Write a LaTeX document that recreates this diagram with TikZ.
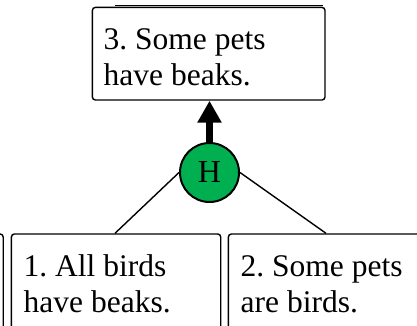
\documentclass[tikz,border=0pt]{standalone}
\usepackage{fontspec}
\setmainfont{Liberation Serif}
\frenchspacing
\usetikzlibrary{arrows.meta}
\definecolor{hgreen}{HTML}{00B050}
\tikzset{
  box/.style={draw, line width=1.4pt, rounded corners=3pt, anchor=north west, inner sep=0pt},
  txt/.style={anchor=base west, align=left, inner sep=0pt, font=\fontsize{31.5}{36}\selectfont},
  hnode/.style={circle, draw, line width=2pt, fill=hgreen, minimum size=59pt, inner sep=0pt, font=\fontsize{32}{36}\selectfont},
  link/.style={line width=1.4pt},
  support/.style={line width=7pt, -{Triangle[width=23pt,length=22pt]}}
}
\begin{document}
\begin{tikzpicture}[x=1pt,y=-1pt]
\useasboundingbox (0,0) rectangle (417,325);
\clip (0,0) rectangle (417,325);
% boxes
\node[box, minimum width=232.6pt, minimum height=92.6pt] (b3) at (91.7,6.7) {};
\node[box, minimum width=209.3pt, minimum height=140pt] (b1) at (10.7,233.3) {};
\node[box, minimum width=250pt, minimum height=140pt] (b2) at (227.7,233.3) {};
\node[box, minimum width=100pt, minimum height=140pt] (b0) at (-97.5,233.3) {};
\draw[line width=1.2pt] (115,5.5) -- (323,5.5);
% texts (anchored at the baseline of the last line)
\node[txt] (t3) at (103.5,85.3) {3. Some pets\\have beaks.};
\node[txt] (t1) at (23.5,312.5) {1. All birds\\have beaks.};
\node[txt] (t2) at (240.5,312.5) {2. Some pets\\are birds.};
% hub
\node[hnode] (h) at (209.5,172.5) {H};
% connectors
\draw[support] (h.north) -- (h.north |- b3.south);
\draw[link] (h.west) -- (115,0 |- b1.north);
\draw[link] (h.east) -- (326,0 |- b2.north);
\end{tikzpicture}
\end{document}
